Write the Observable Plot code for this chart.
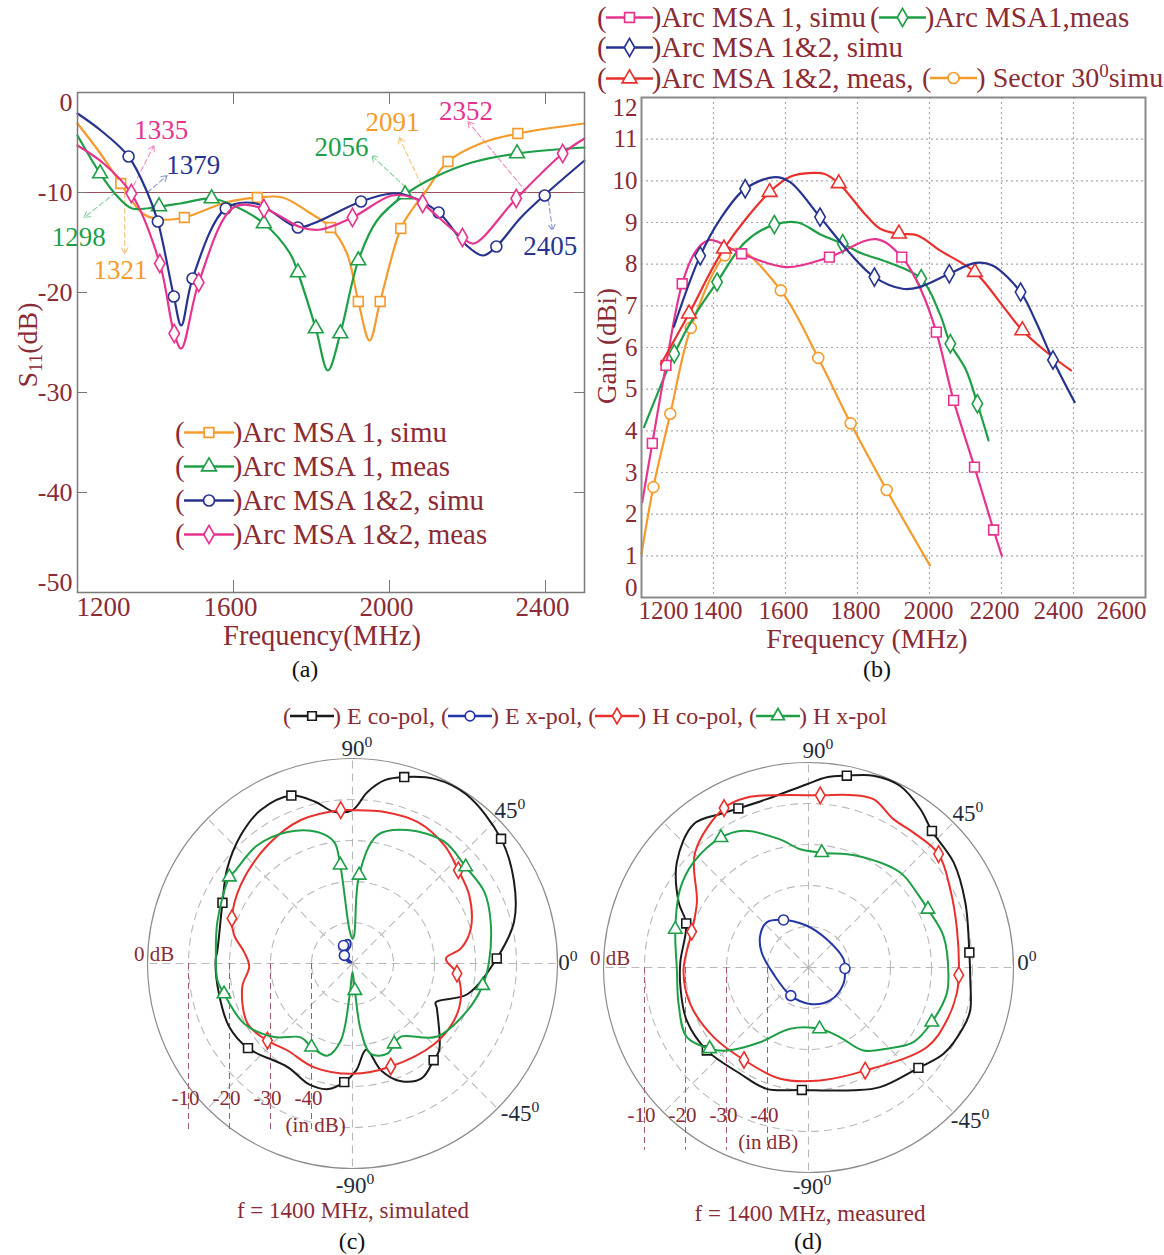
<!DOCTYPE html>
<html><head><meta charset="utf-8">
<script src="https://cdn.jsdelivr.net/npm/d3@7"></script>
<script src="https://cdn.jsdelivr.net/npm/@observablehq/plot@0.6"></script>
<style>
body{margin:0;background:#fff;}
#root{position:relative;width:1164px;height:1255px;font-family:"Liberation Serif","Times New Roman",serif;color:#8a2b35;overflow:hidden;background:#fff;}
.abs{position:absolute;white-space:nowrap;line-height:1;}
.plot{position:absolute;}
.leg{position:absolute;white-space:nowrap;display:flex;align-items:center;line-height:1;}
sup{font-size:68%;vertical-align:0.55em;line-height:0;}
sub{font-size:68%;vertical-align:-0.25em;line-height:0;}
</style></head><body><div id="root"></div><script>
// ---------------- Panel (a): S11 ----------------
const aNames = ["Arc MSA 1, simu", "Arc MSA 1, meas", "Arc MSA 1&2, simu", "Arc MSA 1&2, meas"];
const aXTicks = [1200, 1600, 2000, 2400];
const aYTicks = [0, -10, -20, -30, -40, -50];
const aOrange = [[1200,-3.1],[1255,-5.9],[1311,-9.1],[1367,-12.1],[1416,-12.7],[1474,-12.5],[1580,-11.0],[1661,-10.5],[1726,-10.5],[1794,-12.0],[1849,-13.5],[1891,-16.1],[1920,-20.9],[1949,-24.8],[1976,-20.9],[2029,-13.6],[2060,-11.6],[2091,-10.0],[2150,-6.9],[2240,-5.0],[2329,-4.1],[2500,-3.1]];
const aOrangeMk = [[1311,-9.1],[1474,-12.5],[1661,-10.5],[1849,-13.5],[1920,-20.9],[1976,-20.9],[2029,-13.6],[2150,-6.9],[2329,-4.1]];
const aGreen = [[1200,-4.3],[1258,-8.1],[1298,-10.2],[1340,-11.6],[1409,-11.4],[1464,-11.1],[1544,-10.6],[1600,-11.3],[1678,-13.1],[1745,-16.1],[1765,-18.0],[1811,-23.6],[1842,-27.8],[1874,-24.1],[1920,-16.8],[1968,-12.8],[2040,-10.2],[2114,-8.5],[2211,-7.0],[2327,-6.1],[2500,-5.5]];
const aGreenMk = [[1258,-8.1],[1409,-11.4],[1544,-10.6],[1678,-13.1],[1765,-18.0],[1811,-23.6],[1874,-24.1],[1920,-16.8],[2040,-10.2],[2327,-6.1]];
const aBlue = [[1200,-2.1],[1260,-3.8],[1331,-6.4],[1379,-10.0],[1406,-12.9],[1447,-20.4],[1466,-23.3],[1495,-18.6],[1580,-11.6],[1658,-11.1],[1765,-13.5],[1804,-13.1],[1927,-10.9],[2007,-10.1],[2046,-10.3],[2126,-12.0],[2195,-15.2],[2240,-16.3],[2274,-15.4],[2337,-12.5],[2405,-10.0],[2500,-6.8]];
const aBlueMk = [[1331,-6.4],[1406,-12.9],[1447,-20.4],[1495,-18.6],[1580,-11.6],[1765,-13.5],[1927,-10.9],[2126,-12.0],[2274,-15.4],[2398,-10.3]];
const aPink = [[1200,-5.3],[1267,-7.1],[1338,-10.1],[1411,-17.1],[1448,-24.1],[1466,-25.6],[1511,-19.0],[1600,-11.5],[1678,-11.6],[1774,-13.5],[1823,-13.7],[1905,-12.5],[2007,-10.3],[2065,-10.6],[2085,-11.1],[2187,-14.5],[2216,-15.1],[2325,-10.6],[2444,-6.1],[2500,-4.6]];
const aPinkMk = [[1338,-10.1],[1411,-17.1],[1448,-24.1],[1511,-19.0],[1678,-11.6],[1905,-12.5],[2085,-11.1],[2187,-14.5],[2325,-10.6],[2444,-6.1]];
// band-edge annotations: crossing frequency, arrow tip, label position (MHz, dB)
const aAnnot = [
  {t:"1335", s:3, f:1335, ax:1396, ay:-5.3, lx:1415, ly:-3.8},
  {t:"1379", s:2, f:1379, ax:1430, ay:-8.3, lx:1497, ly:-7.3},
  {t:"1298", s:1, f:1298, ax:1217, ay:-12.5, lx:1203, ly:-14.5},
  {t:"1321", s:0, f:1321, ax:1321, ay:-16.1, lx:1310, ly:-17.8},
  {t:"2056", s:1, f:2056, ax:1954, ay:-6.3, lx:1877, ly:-5.5},
  {t:"2091", s:0, f:2091, ax:2025, ay:-4.5, lx:2008, ly:-3.0},
  {t:"2352", s:3, f:2352, ax:2201, ay:-2.9, lx:2196, ly:-1.9},
  {t:"2405", s:2, f:2405, ax:2418, ay:-13.8, lx:2412, ly:-15.4}
];

// ---------------- Panel (b): Gain ----------------
const bNames = ["Arc MSA 1, simu", "Arc MSA1,meas", "Arc MSA 1&2, simu", "Arc MSA 1&2, meas,", "Sector 30"];
const bXTicks = [1200, 1400, 1600, 1800, 2000, 2200, 2400, 2600];
const bYTicks = [0,1,2,3,4,5,6,7,8,9,10,11,12];
const bPink = [[1202,2.29],[1230,3.70],[1268,5.57],[1313,7.53],[1350,8.30],[1389,8.58],[1478,8.25],[1603,7.93],[1722,8.17],[1852,8.60],[1923,8.17],[1977,7.37],[2019,6.37],[2067,4.73],[2125,3.13],[2178,1.62],[2201,1.0]];
const bPinkMk = [[1230,3.70],[1268,5.57],[1313,7.53],[1478,8.25],[1722,8.17],[1923,8.17],[2019,6.37],[2067,4.73],[2125,3.13],[2178,1.62]];
const bGreen = [[1207,4.09],[1249,4.99],[1291,5.85],[1350,6.80],[1410,7.57],[1488,8.53],[1569,8.95],[1634,9.00],[1696,8.72],[1759,8.49],[1811,8.26],[1883,8.05],[1977,7.65],[2029,6.80],[2058,6.09],[2102,5.45],[2133,4.65],[2164,3.77]];
const bGreenMk = [[1291,5.85],[1410,7.57],[1569,8.95],[1759,8.49],[1977,7.65],[2058,6.09],[2133,4.65]];
const bBlue = [[1290,6.5],[1363,8.2],[1420,9.1],[1488,9.81],[1571,10.09],[1613,9.97],[1696,9.13],[1779,8.26],[1847,7.69],[1925,7.41],[1972,7.45],[2055,7.77],[2128,8.03],[2175,7.97],[2253,7.33],[2294,6.65],[2343,5.70],[2403,4.69]];
const bBlueMk = [[1363,8.2],[1488,9.81],[1696,9.13],[1847,7.69],[2055,7.77],[2253,7.33],[2343,5.70]];
const bRed = [[1254,5.6],[1332,6.81],[1429,8.37],[1556,9.73],[1613,10.1],[1675,10.19],[1707,10.17],[1748,9.94],[1821,9.2],[1863,8.85],[1915,8.73],[1967,8.69],[2029,8.33],[2126,7.81],[2206,6.97],[2258,6.41],[2331,5.85],[2393,5.45]];
const bRedMk = [[1332,6.81],[1429,8.37],[1556,9.73],[1748,9.94],[1915,8.73],[2126,7.81],[2258,6.41]];
const bOrange = [[1200,1.05],[1233,2.65],[1280,4.41],[1337,6.47],[1431,8.21],[1467,8.37],[1587,7.37],[1691,5.75],[1781,4.18],[1881,2.58],[2001,0.77]];
const bOrangeMk = [[1233,2.65],[1280,4.41],[1337,6.47],[1431,8.21],[1587,7.37],[1691,5.75],[1781,4.18],[1881,2.58]];

// ---------------- Panels (c),(d): patterns at 1400 MHz, [angle deg, dB] ----------------
const pNames = ["E co-pol,", "E x-pol,", "H co-pol,", "H x-pol"];
const pRings = [-10, -20, -30, -40];
const pSpokes = [0, 45, 90, 135, 180, 225, 270, 315];
const cEco = [[90,-12.6],[85,-8.0],[80,-4.6],[74.5,-2.8],[66,-0.7],[56,-0.3],[40,-2.7],[27,-5.8],[14.5,-9.3],[2,-14.8],[-15,-21.0],[-25,-27.6],[-28,-26.7],[-45,-20.1],[-50,-19.2],[-59,-17.3],[-68,-19.1],[-75,-23.0],[-81,-28.7],[-88,-23.9],[-94,-21.0],[-101,-18.8],[-110,-18.7],[-122,-20.2],[-141,-17.2],[-153,-16.2],[-167,-16.6],[-181,-16.6],[-186,-16.9],[-205,-15.0],[-217,-11.7],[-229,-8.5],[-239,-6.4],[-250,-6.4],[-257,-9.5],[-263,-12.7]];
const cEcoMk = [[74.5,-2.8],[40,-2.7],[2,-14.8],[-50,-19.2],[-94,-21.0],[-141,-17.2],[155,-15.0],[110,-6.4]];
const cExp = [[135,-49.6],[135,-47.9],[123.7,-46.5],[116.6,-45.1],[106.9,-44.1],[97.4,-44.3],[96.3,-45.6],[111,-46.6],[135,-47.2],[153.4,-48.4],[153.4,-49.5]];
const cExpMk = [[116.6,-45.1],[135,-47.2]];
const cHco = [[94.4,-12.5],[90,-12.6],[78,-12.2],[65,-12.0],[52,-13.5],[41.4,-15.6],[30.4,-17.0],[16.5,-19.9],[7.9,-23.3],[3,-27.2],[-5.5,-24.4],[-17.3,-22.3],[-29.3,-21.6],[-44.5,-22.0],[-69.6,-23.2],[-90,-23.1],[-110.3,-23.0],[-126.8,-23.5],[-137.8,-22.0],[-150.1,-20.5],[-167.9,-22.5],[-178.3,-24.8],[-186.1,-23.4],[-193.5,-20.3],[-200.5,-18.6],[-215,-16.7],[-234.3,-14.5],[-250.2,-12.8]];
const cHcoMk = [[94.4,-12.5],[41.4,-15.6],[-5.5,-24.4],[-69.6,-23.2],[-137.8,-22.0],[159.5,-18.6]];
const cHxp = [[90,-44],[86.6,-43.1],[85.7,-28.4],[79,-18.1],[67.6,-14.8],[53,-12.8],[40.5,-13.7],[28.6,-13.4],[16.8,-14.8],[0.7,-16.7],[-9.6,-17.8],[-22.2,-19.7],[-40.7,-22.7],[-56.5,-28.6],[-62.6,-27.9],[-68.8,-26.4],[-78.5,-27.5],[-82.9,-33.5],[-85,-43.4],[-90,-47.9],[-95,-43],[-98.6,-31.0],[-105.2,-26.7],[-116.1,-27.3],[-125,-28.0],[-136.8,-23.8],[-150.9,-19.8],[-166.7,-17.8],[-172.8,-16.8],[-180.7,-16.7],[-197.2,-15.5],[-215.1,-13.3],[-217.8,-13.5],[-231.2,-13.0],[-243.7,-14.2],[-255.1,-16.8],[-261.4,-20.0],[-262.9,-25.8],[-265,-42]];
const cHxpMk = [[97.1,-25.8],[85.7,-28.4],[40.5,-13.7],[-9.6,-17.8],[-62.6,-27.9],[-85,-43.4],[-116.1,-27.3],[-166.7,-17.8],[144.9,-13.3]];
const dEco = [[78.7,-2.3],[71.3,-0.6],[63.2,-0.4],[54.8,-2.7],[47.9,-5.1],[35.9,-6.3],[22.5,-8.6],[5.3,-10.6],[-4.6,-10.4],[-14.9,-9.2],[-21,-9.5],[-32.6,-10.9],[-42.4,-13.7],[-59.1,-16.0],[-69.9,-18.1],[-93.1,-20.1],[-109,-18.7],[-122.7,-19.2],[-140.8,-18.0],[-156.5,-17.6],[-171.3,-18.4],[-182.2,-18.7],[-199.8,-18.3],[-206.6,-14.6],[-218.6,-8.9],[-231.3,-5.2],[-240.1,-6.8],[-246.2,-7.6],[-256.1,-7.7],[-269.5,-5.3],[-275.5,-3.4]];
const dEcoMk = [[78.7,-2.3],[47.9,-5.1],[5.3,-10.6],[-42.4,-13.7],[-93.1,-20.1],[-140.8,-18.0],[160.2,-18.3],[113.8,-7.6]];
const dExp = [[117.7,-36.9],[92.3,-39.8],[57.1,-41.8],[13.4,-41.2],[-1.6,-41.1],[-25,-40.6],[-56.7,-40.4],[-87.4,-41.1],[-122.2,-41.9],[-169.7,-41.3],[-197.8,-38.0],[-213.2,-35.9],[-227.2,-35.0]];
const dExpMk = [[117.7,-36.9],[-1.6,-41.1],[-122.2,-41.9]];
const dHco = [[86.1,-7.9],[76.4,-6.7],[68.9,-6.0],[60.2,-8.3],[52.1,-8.3],[41.1,-7.9],[28.9,-10.5],[14.5,-12.6],[-2.9,-13.3],[-10.1,-13.3],[-21,-13.9],[-34,-15.2],[-61.2,-21.3],[-84.1,-22.3],[-104.3,-22.0],[-124.9,-22.5],[-143.7,-21.3],[-162.9,-19.8],[-178.6,-19.5],[-197.1,-20.2],[-210.2,-18.5],[-225.4,-10.6],[-242.1,-6.0],[-250.1,-5.9],[-260.7,-7.4]];
const dHcoMk = [[86.1,-7.9],[41.1,-7.9],[-2.9,-13.3],[-61.2,-21.3],[-124.9,-22.5],[162.9,-20.2],[117.9,-6.0]];
const dHxp = [[83.4,-21.8],[66.6,-20.3],[46,-17.8],[34.7,-17.9],[26,-17.6],[13.2,-16.2],[-3.4,-15.8],[-10.8,-15.7],[-23.9,-17.1],[-35.4,-18.6],[-46.1,-22.5],[-56.5,-25.7],[-65.6,-31.3],[-79.8,-34.8],[-106.6,-34.4],[-122.9,-28.3],[-134.5,-21.6],[-140.6,-18.8],[-150.2,-15.8],[-164.4,-17.1],[-178.7,-17.9],[-196,-16.2],[-211.4,-13.3],[-222.4,-12.0],[-236,-11.8],[-244.6,-13.1],[-257.5,-18.0],[-266,-21.1]];
const dHxpMk = [[83.4,-21.8],[26,-17.6],[-23.9,-17.1],[-79.8,-34.8],[-140.6,-18.8],[164,-16.2],[124,-11.8]];

// ---------------- styling ----------------
const FONT = '"Liberation Serif","Times New Roman",serif';
const TXT = "#8a2b35";
const C = {orange:"#f49b2c", green:"#1e9f47", blue:"#27338f", pink:"#e6338e", red:"#e8302c", black:"#1a1a1a", pblue:"#2536a8"};
const SYM = {square:d3.symbolSquare, triangle:d3.symbolTriangle, circle:d3.symbolCircle, diamond:d3.symbolDiamond};
const root = document.getElementById("root");

function place(node, left, top) {
  const w = document.createElement("div");
  w.className = "plot"; w.style.left = left + "px"; w.style.top = top + "px";
  w.appendChild(node); root.appendChild(w);
}
function label(html, x, y, css = {}) {
  const d = document.createElement("div");
  d.className = "abs"; d.innerHTML = html;
  d.style.left = x + "px"; d.style.top = y + "px";
  d.style.transform = css.transform || "translate(-50%,-50%)";
  Object.assign(d.style, css.style || {});
  root.appendChild(d);
  return d;
}
function swatch(color, sym, w, r, fs) {
  const path = d3.symbol(SYM[sym], r * r * Math.PI)();
  return `<span style="font-size:${fs}px">(</span><svg width="${w}" height="20" style="overflow:visible;margin:0 -1px"><line x1="0" y1="10" x2="${w}" y2="10" stroke="${color}" stroke-width="2.6"/><path transform="translate(${w/2},10)" d="${path}" fill="white" stroke="${color}" stroke-width="1.7"/></svg><span style="font-size:${fs}px">)</span>`;
}
function legend(x, y, color, sym, text, w, r, fs) {
  const d = document.createElement("div");
  d.className = "leg";
  d.style.left = x + "px"; d.style.top = y + "px"; d.style.transform = "translateY(-50%)";
  d.style.fontSize = fs + "px";
  d.innerHTML = swatch(color, sym, w, r, fs) + `<span>${text}</span>`;
  root.appendChild(d);
}

// ---------------- Panel (a) ----------------
const aSeries = [
  {pts:aOrange, mk:aOrangeMk, color:C.orange, sym:"square"},
  {pts:aGreen, mk:aGreenMk, color:C.green, sym:"triangle"},
  {pts:aBlue, mk:aBlueMk, color:C.blue, sym:"circle"},
  {pts:aPink, mk:aPinkMk, color:C.pink, sym:"diamond"}
];
const annColor = ["#f5c47c", "#86d29f", "#8c95cc", "#f08cc0"];
const aPlot = Plot.plot({
  width: 600, height: 660, marginLeft: 77, marginRight: 16, marginTop: 92, marginBottom: 68,
  x: {domain: [1200, 2500], axis: null},
  y: {domain: [-50, 0], axis: null},
  style: {fontFamily: FONT, background: "transparent", overflow: "visible"},
  marks: [
    Plot.ruleY([-10], {stroke: "#9c4d5c", strokeWidth: 1.1}),
    Plot.ruleY(aYTicks.filter(v => v < 0 && v > -50), {y: d => d, x1: 1200, x2: 1226, stroke: "#777"}),
    Plot.ruleY(aYTicks.filter(v => v < 0 && v > -50), {y: d => d, x1: 2474, x2: 2500, stroke: "#777"}),
    Plot.ruleX(aXTicks.slice(1), {x: d => d, y1: -50, y2: -48.8, stroke: "#777"}),
    Plot.ruleX(aXTicks.slice(1), {x: d => d, y1: -1.2, y2: 0, stroke: "#777"}),
    Plot.arrow(aAnnot, {x1: d => d.f, y1: -10, x2: d => d.ax, y2: d => d.ay, stroke: d => annColor[d.s], strokeWidth: 1.1, strokeDasharray: "5,3", headLength: 9}),
    Plot.text(aAnnot, {x: d => d.lx, y: d => d.ly, text: d => d.t, fill: d => aSeries[d.s].color, fontSize: 27}),
    ...aSeries.flatMap(s => [
      Plot.line(s.pts, {x: d => d[0], y: d => d[1], stroke: s.color, strokeWidth: 2.2, curve: "catmull-rom"}),
      Plot.dot(s.mk, {x: d => d[0], y: d => d[1], symbol: s.sym, r: 5.5, stroke: s.color, fill: "white", strokeWidth: 1.6})
    ]),
    Plot.frame({stroke: "#7a7a7a", strokeWidth: 1.5}),
    Plot.text(aYTicks.filter(v => v < 0 && v > -50), {x: 1200, y: d => d, text: d => String(d), textAnchor: "end", dx: -5, fill: TXT, fontSize: 26}),
    Plot.text([0], {x: 1200, y: d => d, text: d => String(d), textAnchor: "end", dx: -5, dy: 10, fill: TXT, fontSize: 26}),
    Plot.text([-50], {x: 1200, y: d => d, text: d => String(d), textAnchor: "end", dx: -5, dy: -10, fill: TXT, fontSize: 26}),
    Plot.text(aXTicks.slice(0, 1), {x: d => d, y: -50, text: d => String(d), textAnchor: "start", dx: -1, dy: 15, fill: TXT, fontSize: 27}),
    Plot.text(aXTicks.slice(1), {x: d => d, y: -50, text: d => String(d), dx: -3, dy: 15, fill: TXT, fontSize: 27})
  ]
});
place(aPlot, 0, 0);
label("S<sub>11</sub>(dB)", 28, 345, {transform: "translate(-50%,-50%) rotate(-90deg)", style: {fontSize: "28px", color: TXT}});
label("Frequency(MHz)", 322, 636, {style: {fontSize: "28.5px", color: TXT}});
label("(a)", 305, 669, {style: {fontSize: "24px", color: "#111"}});
aNames.forEach((n, i) => legend(175, 432 + i * 34, aSeries[i].color, aSeries[i].sym, n.replace("&", "&amp;"), 50, 5.5, 29));

// ---------------- Panel (b) ----------------
const bSeries = [
  {pts:bPink, mk:bPinkMk, color:C.pink, sym:"square"},
  {pts:bGreen, mk:bGreenMk, color:C.green, sym:"diamond"},
  {pts:bBlue, mk:bBlueMk, color:C.blue, sym:"diamond"},
  {pts:bRed, mk:bRedMk, color:C.red, sym:"triangle"},
  {pts:bOrange, mk:bOrangeMk, color:C.orange, sym:"circle"}
];
// tick labels of (b) are packed side by side in the reference; per-label nudge in px
const bXNudge = [22, 4, -2, -2, -1, -7, -15, -24];
const bPlot = Plot.plot({
  width: 584, height: 660, marginLeft: 61, marginRight: 19, marginTop: 97, marginBottom: 63,
  x: {domain: [1200, 2600], axis: null},
  y: {domain: [0, 12], axis: null},
  style: {fontFamily: FONT, background: "transparent", overflow: "visible"},
  marks: [
    Plot.ruleX(bXTicks.slice(1, -1), {x: d => d, stroke: "#a9a9a9", strokeDasharray: "2,3", strokeWidth: 1.2}),
    Plot.ruleY(bYTicks.slice(1, -1), {y: d => d, stroke: "#a9a9a9", strokeDasharray: "2,3", strokeWidth: 1.2}),
    ...[4, 1, 0, 3, 2].map(i => bSeries[i]).flatMap(s => [
      Plot.line(s.pts, {x: d => d[0], y: d => d[1], stroke: s.color, strokeWidth: 2.2, curve: "catmull-rom"}),
      Plot.dot(s.mk, {x: d => d[0], y: d => d[1], symbol: s.sym, r: 5.5, stroke: s.color, fill: "white", strokeWidth: 1.6})
    ]),
    Plot.frame({stroke: "#8a8a8a", strokeWidth: 2}),
    Plot.text(bYTicks.slice(1, -1), {x: 1200, y: d => d, text: d => String(d), textAnchor: "end", dx: -4, fill: TXT, fontSize: 25}),
    Plot.text(bYTicks.slice(0, 1), {x: 1200, y: d => d, text: d => String(d), textAnchor: "end", dx: -4, dy: -10, fill: TXT, fontSize: 25}),
    Plot.text(bYTicks.slice(-1), {x: 1200, y: d => d, text: d => String(d), textAnchor: "end", dx: -4, dy: 10, fill: TXT, fontSize: 25}),
    ...bXTicks.map((t, i) => Plot.text([t], {x: d => d, y: 0, text: d => String(d), dx: bXNudge[i], dy: 13, fill: TXT, fontSize: 25}))
  ]
});
place(bPlot, 580, 0);
label("Gain (dBi)", 607, 346, {transform: "translate(-50%,-50%) rotate(-90deg)", style: {fontSize: "27px", color: TXT}});
label("Frequency (MHz)", 867, 639, {style: {fontSize: "28px", color: TXT}});
label("(b)", 877, 669, {style: {fontSize: "24px", color: "#111"}});
legend(597, 17, bSeries[0].color, bSeries[0].sym, bNames[0], 47, 5.5, 29);
legend(870, 17, bSeries[1].color, bSeries[1].sym, bNames[1], 47, 5.5, 29);
legend(597, 47, bSeries[2].color, bSeries[2].sym, bNames[2].replace("&", "&amp;"), 47, 5.5, 29);
legend(597, 78, bSeries[3].color, bSeries[3].sym, bNames[3].replace("&", "&amp;"), 47, 5.5, 29);
legend(922, 78, bSeries[4].color, bSeries[4].sym, "&nbsp;" + bNames[4] + "<sup>0</sup>simu", 47, 5.5, 28);

// ---------------- Panels (c), (d) ----------------
const PX = 4.1, HALF = 230 / PX;
const X = d => (d[1] + 50) * Math.cos(d[0] * Math.PI / 180);
const Y = d => (d[1] + 50) * Math.sin(d[0] * Math.PI / 180);
const pStyle = [
  {color: C.black, sym: "square"},
  {color: C.pblue, sym: "circle"},
  {color: C.red, sym: "diamond"},
  {color: C.green, sym: "triangle"}
];
function polarPlot(series, marksets, tickLen, tickLabelY, inDB) {
  return Plot.plot({
    width: 460, height: 460, margin: 0,
    x: {domain: [-HALF, HALF], axis: null},
    y: {domain: [-HALF, HALF], axis: null},
    r: {type: "linear", domain: [0, 50], range: [0, 205]},
    style: {fontFamily: FONT, background: "transparent", overflow: "visible"},
    marks: [
      Plot.dot(pRings, {x: () => 0, y: () => 0, r: d => d + 50, fill: "none", stroke: "#b9b9b9", strokeDasharray: "8,5", strokeWidth: 1.1}),
      Plot.link(pSpokes, {x1: () => 0, y1: () => 0, x2: d => 50 * Math.cos(d * Math.PI / 180), y2: d => 50 * Math.sin(d * Math.PI / 180), stroke: "#b9b9b9", strokeDasharray: "8,5", strokeWidth: 1.1}),
      Plot.dot([0], {x: () => 0, y: () => 0, r: d => d + 50, fill: "none", stroke: "#8c8c8c", strokeWidth: 1.2}),
      Plot.ruleX(pRings, {x: d => -(d + 50), y1: 0, y2: -tickLen, stroke: "#a65a68", strokeDasharray: "6,4", strokeWidth: 1}),
      Plot.text(pRings, {x: d => -(d + 50), y: tickLabelY, dx: -3, text: d => String(d), fill: TXT, fontSize: 21}),
      Plot.text(["(in dB)"], {x: inDB[0], y: inDB[1], text: d => d, fill: TXT, fontSize: 21}),
      Plot.text(["0 dB"], {x: -48.4, y: 2.3, text: d => d, fill: TXT, fontSize: 21}),
      ...series.flatMap((s, i) => [
        Plot.line(s, {x: X, y: Y, stroke: pStyle[i].color, strokeWidth: 2, curve: "catmull-rom-closed"}),
        Plot.dot(marksets[i], {x: X, y: Y, symbol: pStyle[i].sym, r: 5, stroke: pStyle[i].color, fill: "white", strokeWidth: 1.6})
      ])
    ]
  });
}
const cPlot = polarPlot([cEco, cExp, cHco, cHxp], [cEcoMk, cExpMk, cHcoMk, cHxpMk], 40.7, -32.9, [-9.0, -39.5]);
place(cPlot, 352 - 230, 963 - 230);
const dPlot = polarPlot([dEco, dExp, dHco, dHxp], [dEcoMk, dExpMk, dHcoMk, dHxpMk], 44.6, -36.1, [-9.8, -42.7]);
place(dPlot, 808 - 230, 967 - 230);

const ANG = {fontSize: "23px", color: "#1f2b3a"};
[["90<sup>0</sup>", 357, 748], ["45<sup>0</sup>", 510, 810], ["0<sup>0</sup>", 568, 962], ["-45<sup>0</sup>", 520, 1113], ["-90<sup>0</sup>", 355, 1185]]
  .forEach(([t, x, y]) => label(t, x, y, {style: ANG}));
[["90<sup>0</sup>", 818, 750], ["45<sup>0</sup>", 968, 813], ["0<sup>0</sup>", 1027, 962], ["-45<sup>0</sup>", 970, 1120], ["-90<sup>0</sup>", 812, 1186]]
  .forEach(([t, x, y]) => label(t, x, y, {style: ANG}));
label("f = 1400 MHz, simulated", 353, 1210, {style: {fontSize: "23px", color: TXT}});
label("f = 1400 MHz, measured", 810, 1213, {style: {fontSize: "23px", color: TXT}});
label("(c)", 352, 1241, {style: {fontSize: "24px", color: "#111"}});
label("(d)", 808, 1241, {style: {fontSize: "24px", color: "#111"}});

// polar legend
(function () {
  const d = document.createElement("div");
  d.className = "leg";
  d.style.left = "283px"; d.style.top = "716px"; d.style.transform = "translateY(-50%)";
  d.style.fontSize = "24px";
  d.innerHTML = pNames.map((n, i) => swatch(pStyle[i].color, pStyle[i].sym, 44, 4.8, 24) + `<span>&nbsp;${n}&nbsp;</span>`).join("");
  root.appendChild(d);
})();
</script></body></html>
